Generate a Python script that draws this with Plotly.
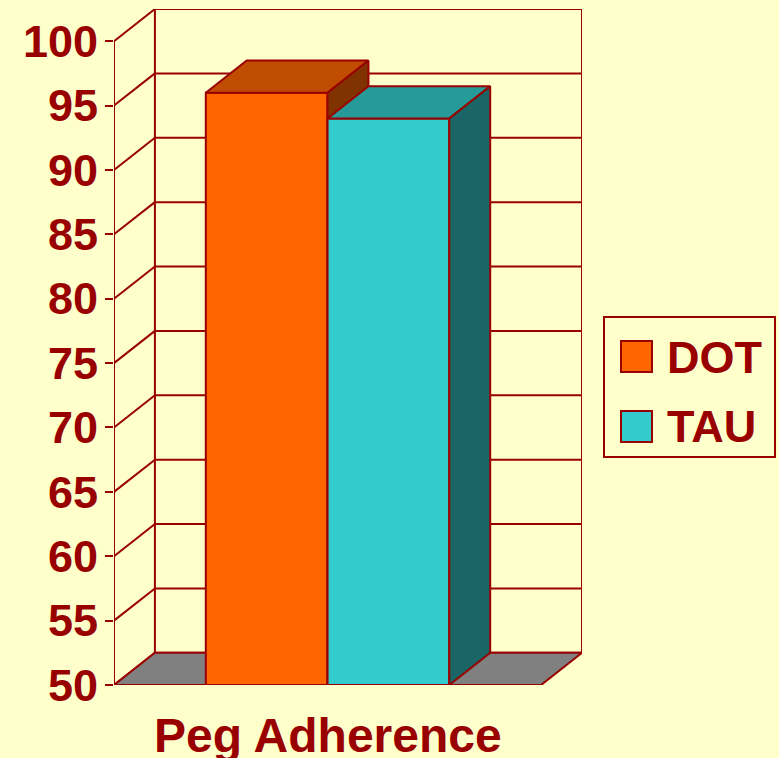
import plotly.graph_objects as go

# ---- data ----
categories = ["DOT", "TAU"]
values = [96, 94]
group_label = "Peg Adherence"
y_ticks = [50, 55, 60, 65, 70, 75, 80, 85, 90, 95, 100]

# ---- style ----
front_colors = ["#FF6600", "#33CCCC"]
top_colors = ["#BF4C00", "#269999"]
side_colors = ["#803300", "#1A6666"]
edge = "#990000"
bg = "#FFFFCC"
floor_color = "#808080"
FONT = "Liberation Sans, Arial, sans-serif"

Y0, Y1 = 50, 100
GAP = 0.754          # floor margin around bars (in bar widths)
DX, DY = 0.336, 2.5  # depth offset (x in bar widths, y in value units)
n = len(categories)
xl, xr = -GAP, n + GAP

fig = go.Figure()

def poly(xs, ys, fill, width=2, close=True):
    if close:
        xs = list(xs) + [xs[0]]
        ys = list(ys) + [ys[0]]
    fig.add_trace(go.Scatter(
        x=xs, y=ys, mode="lines",
        fill="toself" if fill else None,
        fillcolor=fill, line=dict(color=edge, width=width),
        hoverinfo="skip", showlegend=False))

def line(xs, ys, width=2):
    fig.add_trace(go.Scatter(x=xs, y=ys, mode="lines",
                             line=dict(color=edge, width=width),
                             hoverinfo="skip", showlegend=False))

# back wall outline and gridlines
poly([xl + DX, xr + DX, xr + DX, xl + DX], [Y0 + DY, Y0 + DY, Y1 + DY, Y1 + DY], None)
for t in y_ticks[1:-1]:
    line([xl + DX, xr + DX], [t + DY, t + DY])
# left wall diagonals
for t in y_ticks:
    line([xl, xl + DX], [t, t + DY])
# front vertical axis line
line([xl, xl], [Y0, Y1])
# floor
poly([xl, xl + DX, xr + DX, xr], [Y0, Y0 + DY, Y0 + DY, Y0], floor_color)
# floor front ticks
line([xl, xl], [Y0, Y0 - 0.55])
line([xr, xr], [Y0, Y0 - 0.55])

# bars
for i, v in enumerate(values):
    x0, x1 = i, i + 1
    poly([x0, x1, x1, x0], [Y0, Y0, v, v], front_colors[i])
    poly([x0, x0 + DX, x1 + DX, x1], [v, v + DY, v + DY, v], top_colors[i])
    poly([x1, x1, x1 + DX, x1 + DX], [Y0, v, v + DY, Y0 + DY], side_colors[i])

# ---- manual legend (paper coordinates derived from pixel layout) ----
L, R, T, B = 114, 197, 9, 73
W, H = 779, 758
pw, ph = W - L - R, H - T - B
def px(xp):
    return (xp - L) / pw
def py(yp):
    return (H - B - yp) / ph

shapes = [dict(type="rect", xref="paper", yref="paper",
               x0=px(604), x1=px(775), y0=py(457), y1=py(317),
               line=dict(color=edge, width=2), fillcolor=bg, layer="below")]
annotations = []
legend_rows = [357, 427]
for i, name in enumerate(categories):
    cy = legend_rows[i]
    shapes.append(dict(type="rect", xref="paper", yref="paper",
                       x0=px(621), x1=px(652), y0=py(cy + 15), y1=py(cy - 16),
                       line=dict(color=edge, width=2), fillcolor=front_colors[i]))
    annotations.append(dict(xref="paper", yref="paper", x=px(665), y=py(cy),
                            xanchor="left", yanchor="middle", showarrow=False,
                            text="<b>%s</b>" % name,
                            font=dict(family=FONT, size=45, color=edge)))

annotations.append(dict(xref="x", yref="paper", x=(xl + xr) / 2, y=py(707),
                        xanchor="center", yanchor="top", showarrow=False,
                        text="<b>%s</b>" % group_label,
                        font=dict(family=FONT, size=48, color=edge)))

fig.update_layout(
    width=W, height=H,
    margin=dict(l=L, r=R, t=T, b=B, pad=0),
    paper_bgcolor=bg, plot_bgcolor=bg,
    showlegend=False,
    shapes=shapes, annotations=annotations,
    xaxis=dict(range=[xl, xr + DX], visible=False, fixedrange=True),
    yaxis=dict(range=[Y0, Y1 + DY], tickvals=y_ticks,
               ticktext=[str(t) for t in y_ticks],
               showgrid=False, zeroline=False, showline=False,
               ticks="outside", ticklen=8, tickwidth=2, tickcolor=edge,
               ticklabelstandoff=-2,
               tickfont=dict(family=FONT, size=45, color=edge, weight="bold"),
               fixedrange=True),
)

fig.write_html(
    "out.html",
    config={"displayModeBar": False},
    post_script="document.body.style.margin='0';document.body.style.background='%s';" % bg,
)
